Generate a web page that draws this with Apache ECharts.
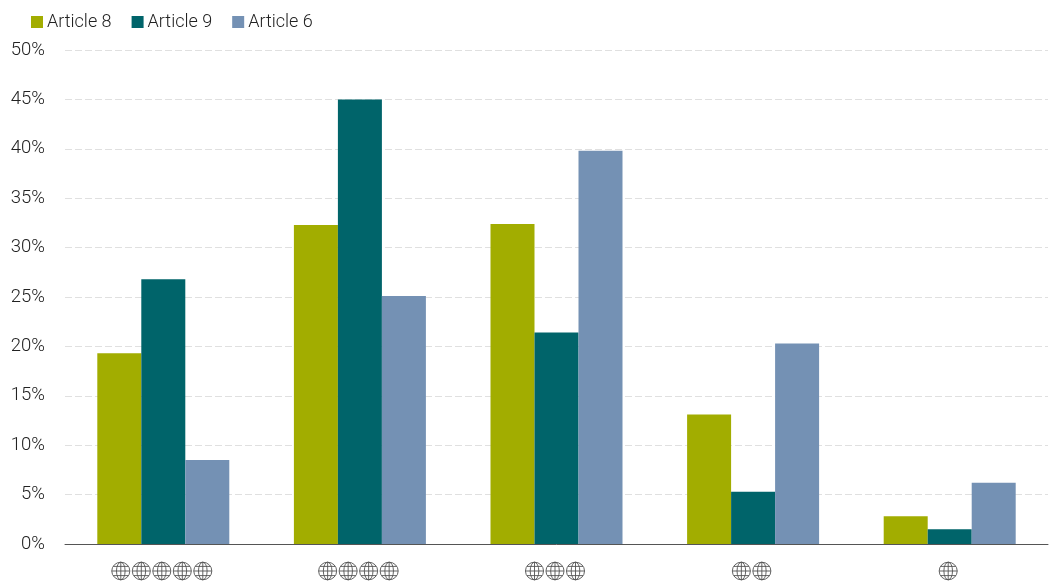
<!DOCTYPE html>
<html><head><meta charset="utf-8">
<style>html,body{margin:0;padding:0;background:#fff}#c{width:1051px;height:585px}</style>
<script src="https://cdn.jsdelivr.net/npm/echarts@6/dist/echarts.min.js"></script>
</head><body><div id="c"></div>
<script>
const categories = ['🌐🌐🌐🌐🌐','🌐🌐🌐🌐','🌐🌐🌐','🌐🌐','🌐'];
const article8 = [19.3,32.3,32.4,13.1,2.8];
const article9 = [26.8,45.0,21.4,5.3,1.5];
const article6 = [8.5,25.1,39.8,20.3,6.2];
const font = 'Roboto,"Liberation Sans",sans-serif';
const globeSvg = '<svg xmlns="http://www.w3.org/2000/svg" width="20" height="20" viewBox="0 0 20 20"><g fill="none" stroke="#555" stroke-width="0.9"><circle cx="10" cy="10" r="8.8"/><ellipse cx="10" cy="10" rx="4.2" ry="8.8"/><path d="M10 1.2V18.8M1.2 10H18.8M2.6 5.4H17.4M2.6 14.6H17.4"/></g></svg>';
const globeUrl = 'data:image/svg+xml;charset=utf-8,' + encodeURIComponent(globeSvg);
const mk = (name,data,color)=>({name,type:'bar',data,barWidth:44,barGap:0,itemStyle:{color}});
const chart = echarts.init(document.getElementById('c'),null,{renderer:'canvas'});
chart.setOption({
  animation:false,
  textStyle:{fontFamily:font},
  legend:{left:26,top:8,itemWidth:12,itemHeight:12,itemGap:20,icon:'rect',
    textStyle:{fontSize:18,fontWeight:300,color:'#222',fontFamily:font,padding:[0,0,0,-1]},
    data:['Article 8','Article 9','Article 6']},
  grid:{left:65,right:3,top:50,bottom:41},
  xAxis:{type:'category',data:categories,
    axisTick:{show:false},
    axisLine:{lineStyle:{color:'#555',width:1}},
    axisLabel:{margin:17,interval:0,padding:[0,3,0,0],
      formatter:v=>Array.from(v).map(g=>'{g|'+g+'}').join(''),
      rich:{g:{width:20.5,height:20,fontSize:12,color:'transparent',align:'center',
        backgroundColor:{image:globeUrl}}}}},
  yAxis:{type:'value',min:0,max:50,interval:5,
    axisLine:{show:false},axisTick:{show:false},
    axisLabel:{formatter:'{value}%',fontSize:18.5,fontWeight:300,color:'#222',margin:20,fontFamily:font,padding:[2,0,0,0]},
    splitLine:{lineStyle:{color:'#e0e0e0',type:[7,3],width:1}}},
  series:[mk('Article 8',article8,'#a2ad00'),mk('Article 9',article9,'#00646a'),mk('Article 6',article6,'#7491b4')]
});
</script></body></html>
